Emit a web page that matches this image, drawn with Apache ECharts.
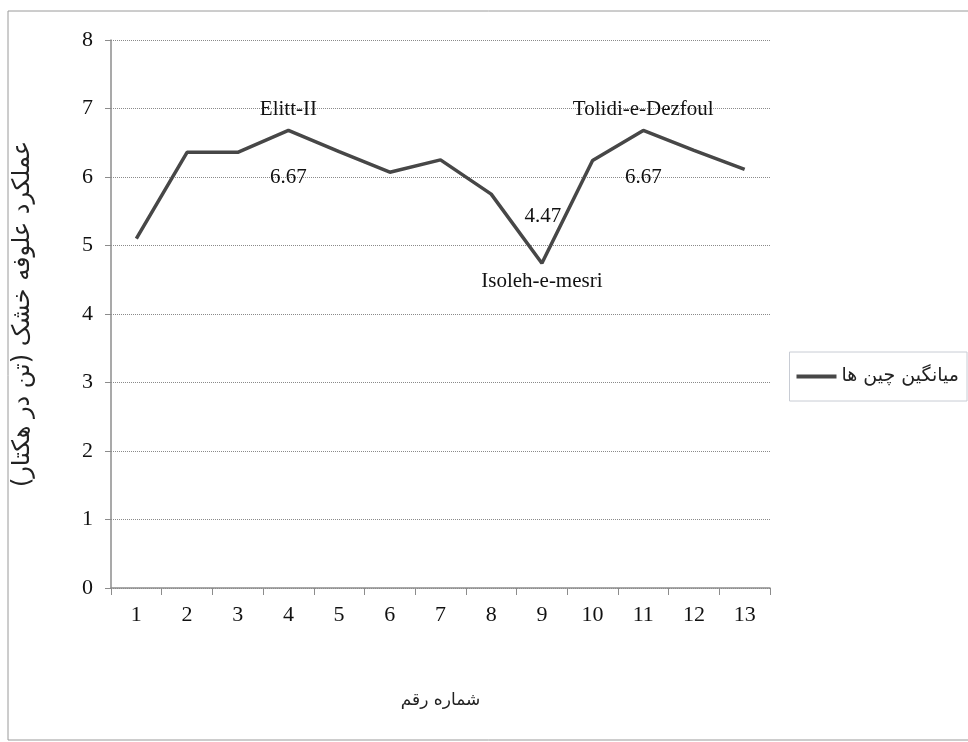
<!DOCTYPE html>
<html>
<head>
    <meta charset="utf-8">
    <title>عملکرد علوفه خشک</title>
    <script src="https://cdnjs.cloudflare.com/ajax/libs/echarts/6.0.0/echarts.min.js"></script>
    <style>
        html, body { margin: 0; padding: 0; background: #fff; }
        #chart { width: 968px; height: 742px; }
    </style>
</head>
<body>
    <div id="chart"></div>
    <script>
        // داده ها
        var categories = ['1', '2', '3', '4', '5', '6', '7', '8', '9', '10', '11', '12', '13'];
        var meanValues = [5.1, 6.36, 6.36, 6.68, 6.37, 6.07, 6.25, 5.75, 4.74, 6.24, 6.68, 6.39, 6.11];
        var yTicks = [0, 1, 2, 3, 4, 5, 6, 7, 8];
        // برچسب ارقام برجسته: [اندیس, نام, مقدار نوشته شده]
        var highlightIdx = [3, 8, 10];
        var highlightNames = ['Elitt-II', 'Isoleh-e-mesri', 'Tolidi-e-Dezfoul'];
        var highlightTexts = ['6.67', '4.47', '6.67'];

        var serif = '"Liberation Serif", "Times New Roman", serif';
        var textFont = '"DejaVu Sans", "Noto Sans", sans-serif';

        var marks = [];
        highlightIdx.forEach(function (i, k) {
            var low = meanValues[i] < 5;
            marks.push({
                coord: [i, meanValues[i]],
                label: { formatter: highlightNames[k], offset: [0, low ? 18 : -21] }
            });
            marks.push({
                coord: [i, meanValues[i]],
                label: { formatter: highlightTexts[k], offset: low ? [1, -47] : [0, 47] }
            });
        });

        var chart = echarts.init(document.getElementById('chart'));
        chart.setOption({
            backgroundColor: '#fff',
            animation: false,
            graphic: [{
                type: 'rect',
                shape: { x: 8, y: 11, width: 980, height: 729 },
                style: { fill: 'none', stroke: '#9a9a9a', lineWidth: 1 },
                silent: true
            }],
            grid: { left: 111, right: 198, top: 40, bottom: 154 },
            legend: {
                right: 1,
                top: 352,
                orient: 'vertical',
                data: ['میانگین چین ها'],
                itemWidth: 40,
                itemHeight: 4,
                itemGap: 4,
                itemTextGap: 3,
                padding: [15, 8, 15, 7],
                borderColor: '#c8ccd4',
                borderWidth: 1,
                icon: 'rect',
                textStyle: { fontFamily: textFont, fontSize: 19, color: '#222' }
            },
            xAxis: {
                type: 'category',
                data: categories,
                boundaryGap: true,
                name: 'شماره رقم',
                nameLocation: 'middle',
                nameGap: 104,
                nameTextStyle: { fontFamily: textFont, fontSize: 17, color: '#222' },
                axisLine: { lineStyle: { color: '#8c8c8c', width: 1.5 } },
                axisTick: { show: true, length: 7, lineStyle: { color: '#8c8c8c' } },
                axisLabel: { fontFamily: serif, fontSize: 22, color: '#111', margin: 16 }
            },
            yAxis: {
                type: 'value',
                min: 0,
                max: 8,
                interval: 1,
                name: 'عملکرد علوفه خشک (تن در هکتار)',
                nameLocation: 'middle',
                nameRotate: 90,
                nameGap: 76,
                nameTextStyle: { fontFamily: textFont, fontSize: 24, color: '#222' },
                axisLine: { show: true, lineStyle: { color: '#8c8c8c', width: 1.5 } },
                axisTick: { show: true, length: 6, lineStyle: { color: '#8c8c8c' } },
                axisLabel: {
                    fontFamily: serif, fontSize: 22, color: '#111', margin: 18,
                    formatter: function (v) { return yTicks.indexOf(v) >= 0 ? String(v) : ''; }
                },
                splitLine: { lineStyle: { color: '#8a8a8a', type: [1, 1], width: 1 } }
            },
            series: [{
                name: 'میانگین چین ها',
                type: 'line',
                data: meanValues,
                symbol: 'none',
                color: '#474747',
                lineStyle: { color: '#474747', width: 3.5 },
                markPoint: {
                    symbol: 'circle',
                    symbolSize: 0,
                    silent: true,
                    label: {
                        show: true,
                        position: 'inside',
                        fontFamily: serif,
                        fontSize: 21,
                        color: '#111'
                    },
                    data: marks
                }
            }]
        });
    </script>
</body>
</html>
